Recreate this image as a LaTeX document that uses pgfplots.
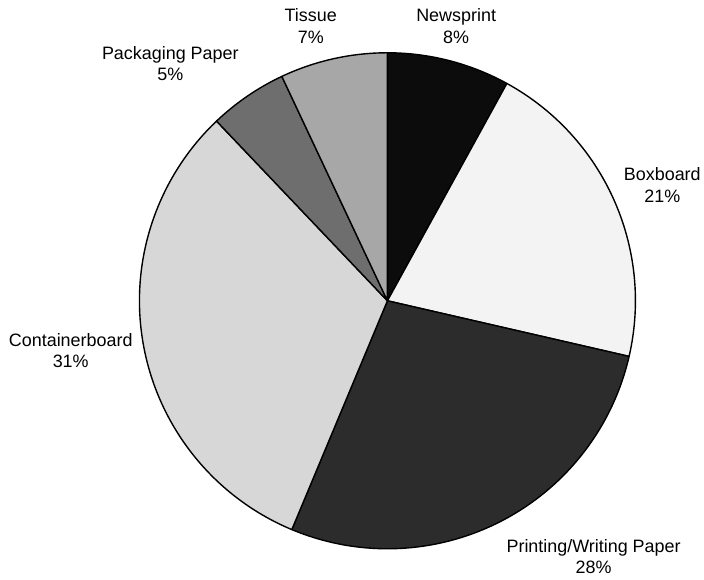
\documentclass[border=0pt]{standalone}
\usepackage{pgfplots}
\pgfplotsset{compat=1.18}
\usepackage{pgfplotstable}
\usepackage{fontspec}
\setmainfont{Liberation Sans}

\definecolor{cNews}{HTML}{0C0C0C}
\definecolor{cBox}{HTML}{F3F3F3}
\definecolor{cPrint}{HTML}{2C2C2C}
\definecolor{cCont}{HTML}{D7D7D7}
\definecolor{cPack}{HTML}{6E6E6E}
\definecolor{cTiss}{HTML}{A7A7A7}

% slice shares, clockwise from 12 o'clock
\pgfplotstableread[col sep=comma]{
name,value,fillc,lx,ly,label
Newsprint,8.0,cNews,458,556,Newsprint\\8\%
Boxboard,20.6,cBox,665,396,Boxboard\\21\%
Printing,27.7,cPrint,596,23,Printing/Writing Paper\\28\%
Containerboard,31.6,cCont,71,230,Containerboard\\31\%
Packaging,5.1,cPack,171,518,Packaging Paper\\5\%
Tissue,7.0,cTiss,312,556,Tissue\\7\%
}\piedata

\begin{document}
\begin{tikzpicture}
% cumulative angles, stored globally per slice
\def\cum{0}
\pgfplotsforeachungrouped \i in {0,...,5}{%
  \pgfplotstablegetelem{\i}{value}\of\piedata
  \let\v=\pgfplotsretval
  \pgfmathsetmacro\a{90-3.6*\cum}%
  \pgfmathsetmacro\cum{\cum+\v}%
  \pgfmathsetmacro\b{90-3.6*\cum}%
  \expandafter\xdef\csname sa\i\endcsname{\a}%
  \expandafter\xdef\csname sb\i\endcsname{\b}%
  \pgfplotstablegetelem{\i}{fillc}\of\piedata
  \expandafter\xdef\csname sf\i\endcsname{\pgfplotsretval}%
}
\begin{axis}[
    width=704pt, height=582pt,
    scale only axis,
    xmin=0, xmax=704, ymin=0, ymax=582,
    enlargelimits=false,
    hide axis,
    clip=false,
  ]
\path (axis cs:0,0) rectangle (axis cs:704,582);
\pgfplotsinvokeforeach{0,...,5}{
  \filldraw[fill=\csname sf#1\endcsname, draw=black, line width=1.4pt, line join=round]
    (axis cs:389,280)
    -- (axis cs:{389+249*cos(\csname sa#1\endcsname)},{280+249*sin(\csname sa#1\endcsname)})
    arc[start angle=\csname sa#1\endcsname, end angle=\csname sb#1\endcsname, radius=249pt]
    -- cycle;
}
\addplot[only marks, mark=none,
    point meta=explicit symbolic,
    nodes near coords={\pgfplotspointmeta},
    nodes near coords style={anchor=center, align=center, text=black,
      font=\fontsize{18}{21.5}\selectfont},
  ] table[col sep=comma, x=lx, y=ly, meta=label] {\piedata};
\end{axis}
\end{tikzpicture}
\end{document}
